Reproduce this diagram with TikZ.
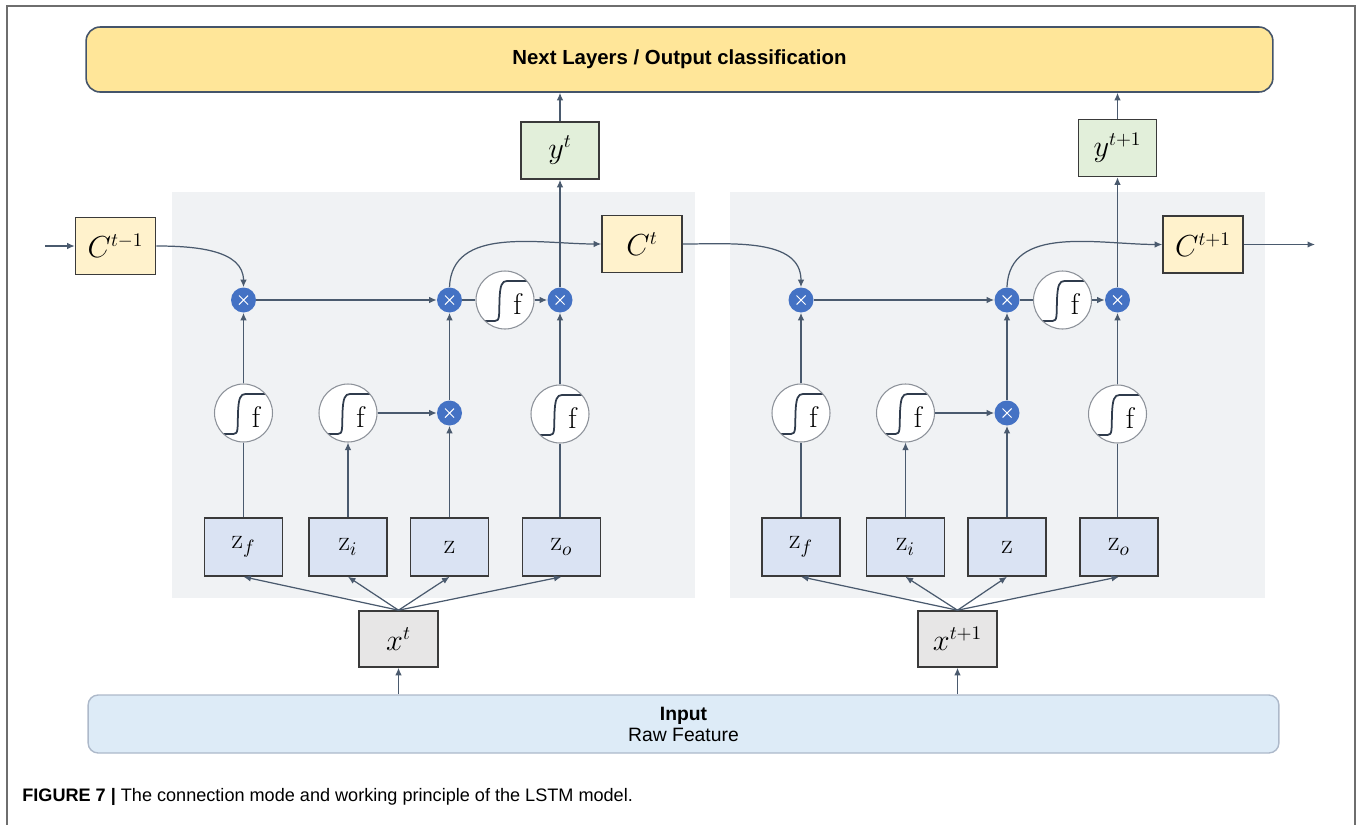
\documentclass[tikz,border=0pt]{standalone}
\usepackage{fontspec}
\newfontfamily\arialf{Liberation Sans}
\usetikzlibrary{arrows.meta}
\definecolor{framec}{HTML}{6E6E6E}
\definecolor{topfill}{HTML}{FFE699}
\definecolor{topline}{HTML}{44546A}
\definecolor{panelc}{HTML}{F0F2F4}
\definecolor{cfill}{HTML}{FFF2CC}
\definecolor{yfill}{HTML}{E2EFDA}
\definecolor{zfill}{HTML}{DAE3F3}
\definecolor{xfill}{HTML}{E7E6E6}
\definecolor{infill}{HTML}{DDEBF7}
\definecolor{inline}{HTML}{ADB9CA}
\definecolor{boxline}{HTML}{3A3A3A}
\definecolor{arrowc}{HTML}{4A5A6E}
\definecolor{multc}{HTML}{4472C4}
\definecolor{sigline}{HTML}{2F3B4C}
\definecolor{circc}{HTML}{8C9199}
\newcommand\mathlab{\fontsize{16}{16}\selectfont}
\tikzset{
  arr/.style={draw=arrowc, line width=0.7pt, -{Latex[length=1.5mm,width=1.3mm]}},
  ln/.style={draw=arrowc, line width=0.7pt},
  sqbox/.style={draw=boxline, line width=0.9pt, inner sep=0pt, font=\mathlab},
  cbox/.style={sqbox, fill=cfill, minimum width=1.6cm, minimum height=1.14cm},
  ybox/.style={sqbox, fill=yfill, minimum width=1.56cm, minimum height=1.14cm},
  zbox/.style={sqbox, fill=zfill, minimum width=1.56cm, minimum height=1.16cm},
  xbox/.style={sqbox, fill=xfill, minimum width=1.58cm, minimum height=1.12cm},
  mult/.style={circle, fill=multc, minimum size=0.5cm, inner sep=0pt,
    path picture={\begin{scope}[shift={(path picture bounding box.center)}]
      \draw[white, line width=0.6pt] (-4.5,-4.5) -- (4.5,4.5) (-4.5,4.5) -- (4.5,-4.5);
    \end{scope}}},
  sig/.style={circle, draw=circc, line width=0.6pt, fill=white, minimum size=1.16cm, inner sep=0pt,
    path picture={\begin{scope}[shift={(path picture bounding box.center)}]
      \draw[sigline, line width=1pt] (-24,21) -- (-10,21)
        .. controls (-5,21) and (-6,15) .. (-5.5,0)
        .. controls (-5,-15) and (-3,-19) .. (2,-19) -- (26,-19);
      \node[font=\fontsize{17}{17}\selectfont, inner sep=0pt] at (12.5,4) {f};
    \end{scope}}},
}
\newcommand\lstmcell[6]{%
  % #1 suffix, #2 shift in px, #3 C in, #4 C out, #5 x node, #6 y node
  \node[mult] (m1#1) at ({243.5+#2},300) {};
  \node[mult] (m2#1) at ({449.5+#2},300) {};
  \node[sig]  (sT#1) at ({505+#2},300) {};
  \node[mult] (m3#1) at ({560+#2},300) {};
  \node[sig]  (sF#1) at ({243.5+#2},413) {};
  \node[sig]  (sI#1) at ({348+#2},413) {};
  \node[mult] (m4#1) at ({449.5+#2},413) {};
  \node[sig]  (sO#1) at ({560+#2},414) {};
  \node[zbox] (zf#1) at ({243.5+#2},547) {$\mathrm{z}_f$};
  \node[zbox] (zi#1) at ({348+#2},547) {$\mathrm{z}_i$};
  \node[zbox] (zz#1) at ({449.5+#2},547) {$\mathrm{z}$};
  \node[zbox] (zo#1) at ({561.5+#2},547) {$\mathrm{z}_o$};
  \draw[arr] (#3.east) to[out=0,in=90] (m1#1.north);
  \draw[arr] (m1#1) -- (m2#1);
  \draw[ln] (m2#1) -- (sT#1);
  \draw[arr] (sT#1) -- (m3#1);
  \draw[arr] (m2#1.north) to[out=88,in=180] (#4.west);
  \draw[arr] (m3#1.north) -- (m3#1.north |- #6.south);
  \draw[arr] (sF#1) -- (m1#1);
  \draw[ln] (zf#1.north -| sF#1) -- (sF#1);
  \draw[arr] (zi#1.north -| sI#1) -- (sI#1);
  \draw[arr] (sI#1) -- (m4#1);
  \draw[arr] (zz#1.north -| m4#1) -- (m4#1);
  \draw[arr] (m4#1) -- (m2#1);
  \draw[ln] (zo#1.north -| sO#1) -- (sO#1);
  \draw[arr] (sO#1) -- (m3#1);
  \foreach \t in {zf,zi,zz,zo} {\draw[arr] (#5.north) -- (\t#1.south);}
}
\begin{document}
\begin{tikzpicture}[x=0.02cm,y=-0.02cm]
\useasboundingbox (0,0) rectangle (1363,825);
\draw[framec, line width=0.8pt] (7,830) -- (7,6) -- (1355,6) -- (1355,830);
\fill[panelc] (172,192) rectangle (695,598);
\fill[panelc] (730,192) rectangle (1265,598);
\node[draw=topline, line width=0.9pt, fill=topfill, rounded corners=0.28cm,
  minimum width=23.74cm, minimum height=1.3cm, inner sep=0pt,
  font=\arialf\bfseries\fontsize{11.6}{13}\selectfont] (out) at (679.5,59.5)
  {Next Layers / Output classification};
\node[draw=inline, line width=0.8pt, fill=infill, rounded corners=0.2cm,
  minimum width=23.82cm, minimum height=1.16cm, inner sep=0pt, align=center,
  font=\arialf\fontsize{11}{12}\selectfont] (inp) at (683.5,724)
  {\textbf{Input}\\Raw Feature};
\node[cbox] (Cm) at (115.5,246) {$C^{t-1}$};
\node[cbox] (Ct) at (642,244) {$C^{t}$};
\node[cbox] (Cp) at (1203,244.5) {$C^{t+1}$};
\node[ybox] (yt) at (560,150.5) {$y^{t}$};
\node[ybox] (yp) at (1117.5,148) {$y^{t+1}$};
\node[xbox] (xt) at (398.5,639) {$x^{t}$};
\node[xbox] (xp) at (957.5,639) {$x^{t+1}$};
\coordinate (cin) at (45,246);
\coordinate (cout) at (1315,244.5);
\draw[arr] (cin) -- (Cm.west);
\draw[arr] (Cp.east) -- (cout);
\lstmcell{a}{0}{Cm}{Ct}{xt}{yt}
\lstmcell{b}{557.5}{Ct}{Cp}{xp}{yp}
\draw[arr] (yt.north) -- (yt.north |- out.south);
\draw[arr] (yp.north) -- (yp.north |- out.south);
\draw[arr] (inp.north -| xt.south) -- (xt.south);
\draw[arr] (inp.north -| xp.south) -- (xp.south);
\node[anchor=west, inner sep=0pt, font=\arialf\fontsize{10.3}{12}\selectfont] (cap) at (22,797)
  {\textbf{FIGURE 7 |} The connection mode and working principle of the LSTM model.};
\end{tikzpicture}
\end{document}
